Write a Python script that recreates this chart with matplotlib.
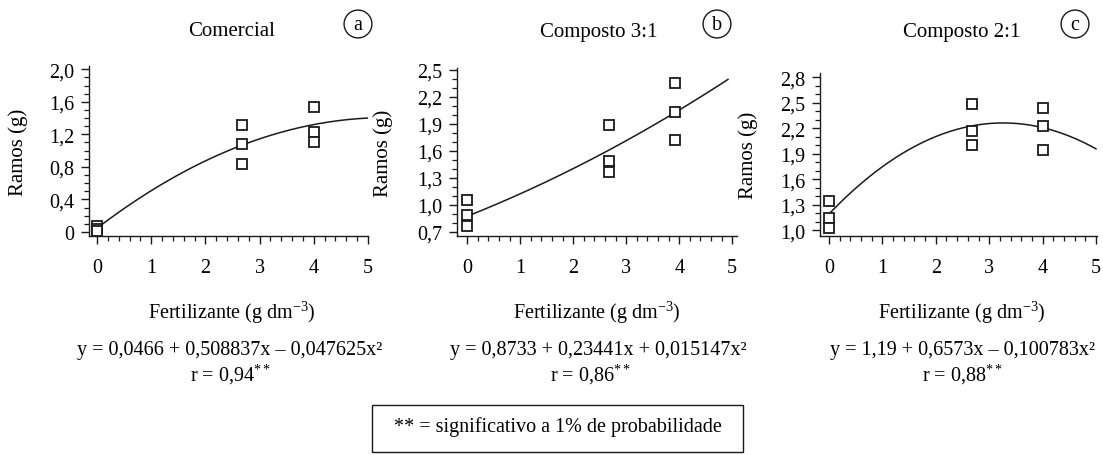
import numpy as np
import matplotlib
matplotlib.use("Agg")
import matplotlib.pyplot as plt
from matplotlib.ticker import FixedLocator, MultipleLocator
from matplotlib.patches import Rectangle

plt.rcParams["font.family"] = ["Liberation Serif", "DejaVu Serif"]
plt.rcParams["mathtext.fontset"] = "custom"
plt.rcParams["mathtext.rm"] = "Liberation Serif"
plt.rcParams["mathtext.it"] = "Liberation Serif:italic"

# ── data ───────────────────────────────────────────────────────────────────────
titles = ["Comercial", "Composto 3:1", "Composto 2:1"]
letters = ["a", "b", "c"]

x_a = [0, 0, 0, 2.67, 2.67, 2.67, 4, 4, 4]
y_a = [0.07, 0.03, 0.01, 1.32, 1.08, 0.83, 1.54, 1.23, 1.11]
x_b = [0, 0, 0, 2.67, 2.67, 2.67, 3.93, 3.93, 3.93]
y_b = [1.05, 0.89, 0.77, 1.89, 1.49, 1.37, 2.35, 2.03, 1.72]
x_c = [0, 0, 0, 2.67, 2.67, 2.67, 4, 4, 4]
y_c = [1.34, 1.14, 1.02, 2.49, 2.17, 2.00, 2.44, 2.23, 1.94]

# regression coefficients (c0, c1, c2) as printed under each panel
coef_a = [0.0466, 0.508837, -0.047625]
coef_b = [0.8733, 0.23441, 0.015147]
coef_c = [1.19, 0.6573, -0.100783]
x_end = [5.0, 4.92, 5.0]

eq_labels = [
    "y = 0,0466 + 0,508837x \u2013 0,047625x\u00b2",
    "y = 0,8733 + 0,23441x + 0,015147x\u00b2",
    "y = 1,19 + 0,6573x \u2013 0,100783x\u00b2",
]
r_labels = [r"r = 0,94$^{**}$", r"r = 0,86$^{**}$", r"r = 0,88$^{**}$"]

xticks = [0, 1, 2, 3, 4, 5]
yticks_a = [0, 0.4, 0.8, 1.2, 1.6, 2.0]
ylabels_a = ["0", "0,4", "0,8", "1,2", "1,6", "2,0"]
yticks_b = [0.7, 1.0, 1.3, 1.6, 1.9, 2.2, 2.5]
ylabels_b = ["0,7", "1,0", "1,3", "1,6", "1,9", "2,2", "2,5"]
yticks_c = [1.0, 1.3, 1.6, 1.9, 2.2, 2.5, 2.8]
ylabels_c = ["1,0", "1,3", "1,6", "1,9", "2,2", "2,5", "2,8"]

note = "** = significativo a 1% de probabilidade"

# ── layout (pixels) ────────────────────────────────────────────────────────────
W, H = 1103, 456
FS = 14.5

# left, right, top, bottom in pixels; xlim; ylim
panels = [
    dict(px=(89, 368, 67, 237), xlim=(-0.15, 5.0), ylim=(-0.05, 2.04),
         x=x_a, y=y_a, coef=coef_a, yt=yticks_a, yl=ylabels_a,
         title_x=232, circ_x=358, eq_x=230, r_x=230, xlab_x=232, ylab_x=28),
    dict(px=(457, 737, 69, 237), xlim=(-0.19, 5.09), ylim=(0.655, 2.52),
         x=x_b, y=y_b, coef=coef_b, yt=yticks_b, yl=ylabels_b,
         title_x=599, circ_x=717, eq_x=598, r_x=590, xlab_x=597, ylab_x=393),
    dict(px=(820, 1097, 74, 237), xlim=(-0.17, 5.02), ylim=(0.93, 2.85),
         x=x_c, y=y_c, coef=coef_c, yt=yticks_c, yl=ylabels_c,
         title_x=962, circ_x=1075, eq_x=962, r_x=962, xlab_x=962, ylab_x=758),
]

fig = plt.figure(figsize=(W / 100, H / 100), dpi=100)


def fx(px):
    return px / W


def fy(py):
    return 1 - py / H


for i, p in enumerate(panels):
    l, r, t, b = p["px"]
    ax = fig.add_axes([fx(l), fy(b), (r - l) / W, (b - t) / H])

    xs = np.linspace(0, x_end[i], 200)
    c0, c1, c2 = p["coef"]
    ax.plot(xs, np.polyval([c2, c1, c0], xs), color="#1a1a1a", lw=1.1)
    ax.plot(p["x"], p["y"], ls="none", marker="s", ms=6.5, mfc="white",
            mec="#1a1a1a", mew=1.3)

    ax.set_xlim(*p["xlim"])
    ax.set_ylim(*p["ylim"])
    ax.xaxis.set_major_locator(FixedLocator(xticks))
    ax.set_xticklabels([str(v) for v in xticks])
    ax.xaxis.set_minor_locator(MultipleLocator(0.2))
    ax.yaxis.set_major_locator(FixedLocator(p["yt"]))
    ax.set_yticklabels(p["yl"])
    ax.yaxis.set_minor_locator(MultipleLocator(0.1))

    for s in ("top", "right"):
        ax.spines[s].set_visible(False)
    for s in ("left", "bottom"):
        ax.spines[s].set_linewidth(1.0)
        ax.spines[s].set_color("#1a1a1a")

    ax.tick_params(which="major", length=5.5, width=1, color="#1a1a1a",
                   labelsize=FS)
    ax.tick_params(which="minor", length=3.5, width=0.9, color="#1a1a1a")
    ax.tick_params(axis="x", which="major", pad=10)
    ax.tick_params(axis="y", which="major", pad=5)

    ax.set_ylabel("Ramos (g)", fontsize=FS + 0.5)
    ax.yaxis.set_label_coords((p["ylab_x"] - l) / (r - l), 0.5)
    ax.set_xlabel(r"Fertilizante (g dm$^{-3}$)", fontsize=FS)
    ax.xaxis.set_label_coords((p["xlab_x"] - l) / (r - l), (b - 300) / (b - t))

    fig.text(fx(p["title_x"]), fy(32), titles[i], fontsize=FS + 0.5,
             ha="center", va="center")
    fig.text(fx(p["circ_x"]), fy(25), letters[i], fontsize=FS, ha="center",
             va="center",
             bbox=dict(boxstyle="circle,pad=0.22", fc="white", ec="#1a1a1a",
                       lw=1.0))
    fig.text(fx(p["eq_x"]), fy(350), eq_labels[i], fontsize=FS,
             ha="center", va="center")
    fig.text(fx(p["r_x"]), fy(375), r_labels[i], fontsize=FS,
             ha="center", va="center")

fig.patches.append(Rectangle((fx(372), fy(453)), (743 - 372) / W,
                             (453 - 406) / H, transform=fig.transFigure,
                             fill=False, ec="#1a1a1a", lw=1.0))
fig.text(fx(558), fy(427), note, fontsize=FS, ha="center", va="center")

fig.savefig("out.png", dpi=100)
